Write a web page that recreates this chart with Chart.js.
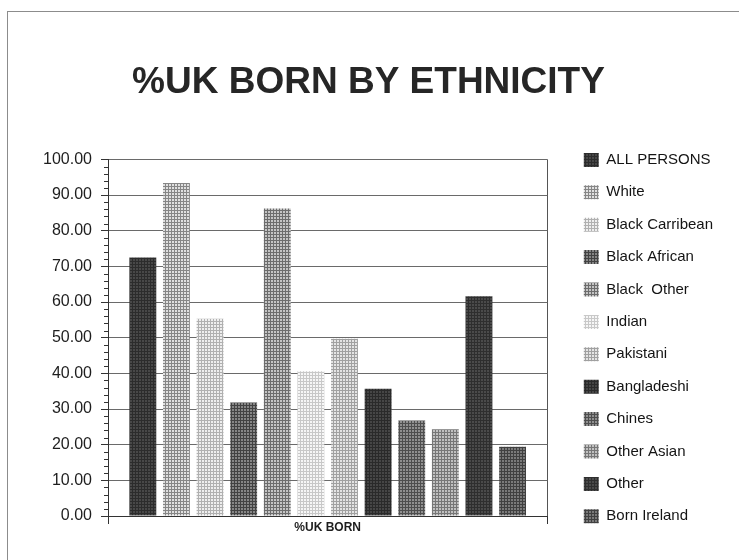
<!DOCTYPE html>
<html>
<head>
<meta charset="utf-8">
<script src="https://cdn.jsdelivr.net/npm/chart.js@4/dist/chart.umd.min.js"></script>
<style>
    body { margin: 0; background: #ffffff; }
    #quadro { position: relative; width: 739px; height: 560px; overflow: hidden; }
    #moldura {
        position: absolute; left: 7px; top: 11px; right: -2px; bottom: -2px;
        border-left: 1px solid #8c8c8c; border-top: 1px solid #8c8c8c;
        pointer-events: none;
    }
</style>
</head>
<body>
<div id="quadro">
    <canvas id="chart_uk_born" width="739" height="560"></canvas>
    <div id="moldura"></div>
</div>
<script>
// dados
const categorias = ['%UK BORN'];
const grupos = ['ALL PERSONS', 'White', 'Black Carribean', 'Black African', 'Black  Other', 'Indian',
    'Pakistani', 'Bangladeshi', 'Chines', 'Other Asian', 'Other', 'Born Ireland'];
const pct_uk_born = [72.5, 93.4, 55.3, 31.8, 86.2, 40.6, 49.7, 35.7, 26.8, 24.3, 61.6, 19.4];
const eixo_y = { min: 0, max: 100, passo: 10, menor: 2 };

// tons de cinza de cada barra: [fundo, trama]
const tons = [
    ['#484848', '#2c2c2c'],
    ['#e0e0e0', '#868686'],
    ['#eeeeee', '#b0b0b0'],
    ['#868686', '#424242'],
    ['#c4c4c4', '#6c6c6c'],
    ['#f6f6f6', '#c8c8c8'],
    ['#e4e4e4', '#a0a0a0'],
    ['#464646', '#2a2a2a'],
    ['#909090', '#4e4e4e'],
    ['#c0c0c0', '#767676'],
    ['#4a4a4a', '#2e2e2e'],
    ['#7a7a7a', '#404040']
];

const fonte = 'Liberation Sans, Arial, Helvetica, sans-serif';

// trama de pontos, parecida com a retícula impressa
function criarTrama(fundo, trama) {
    var c = document.createElement('canvas');
    c.width = 3;
    c.height = 3;
    var g = c.getContext('2d');
    g.fillStyle = fundo;
    g.fillRect(0, 0, 3, 3);
    g.fillStyle = trama;
    g.fillRect(0, 0, 3, 1);
    g.fillRect(0, 0, 1, 3);
    return g.createPattern(c, 'repeat');
}

var datasets = [];
for (var i = 0; i < grupos.length; i++) {
    datasets.push({
        label: grupos[i],
        data: [pct_uk_born[i]],
        backgroundColor: criarTrama(tons[i][0], tons[i][1]),
        borderWidth: 0,
        categoryPercentage: 0.918,
        barPercentage: 0.8
    });
}

// tracinhos menores no eixo y, entre as marcas principais
const marcasMenores = {
    id: 'marcasMenores',
    afterDraw(chart) {
        var escala = chart.scales.y;
        var ctx = chart.ctx;
        var x = chart.chartArea.left;
        ctx.save();
        ctx.strokeStyle = '#333333';
        ctx.lineWidth = 1;
        for (var v = eixo_y.min; v <= eixo_y.max; v += eixo_y.menor) {
            if (v % eixo_y.passo == 0) continue;
            var y = Math.round(escala.getPixelForValue(v)) + 0.5;
            ctx.beginPath();
            ctx.moveTo(x - 4, y);
            ctx.lineTo(x, y);
            ctx.stroke();
        }
        ctx.restore();
    }
};

// empurra a legenda um pouco para a direita, deixando um vão depois do gráfico
const afastarLegenda = {
    id: 'afastarLegenda',
    afterLayout(chart) {
        chart.legend.left += 19;
        chart.legend.right += 19;
    }
};

new Chart(document.getElementById('chart_uk_born'), {
    type: 'bar',
    data: {
        labels: categorias,
        datasets: datasets
    },
    plugins: [marcasMenores, afastarLegenda],
    options: {
        responsive: false,
        animation: false,
        layout: {
            padding: { left: 33, right: 35, top: 0, bottom: 10 }
        },
        scales: {
            x: {
                grid: {
                    offset: true,
                    color: '#555555',
                    tickLength: 8,
                    tickColor: '#333333'
                },
                border: { display: true, color: '#333333' },
                ticks: {
                    color: '#1e1e1e',
                    padding: -4,
                    font: { family: fonte, size: 12, weight: 'bold' }
                },
                afterFit: function (escala) { escala.height = 34; }
            },
            y: {
                min: eixo_y.min,
                max: eixo_y.max,
                ticks: {
                    stepSize: eixo_y.passo,
                    color: '#1e1e1e',
                    padding: 9,
                    font: { family: fonte, size: 16 },
                    callback: function (valor) { return valor.toFixed(2); }
                },
                grid: {
                    color: '#6a6a6a',
                    tickLength: 7,
                    tickColor: '#333333'
                },
                border: { display: true, color: '#333333' },
                afterFit: function (escala) { escala.width = 75; }
            }
        },
        plugins: {
            title: {
                display: true,
                text: '%UK BORN BY ETHNICITY',
                color: '#262626',
                font: { family: fonte, size: 37, weight: 'bold' },
                padding: { top: 61, bottom: 54 }
            },
            legend: {
                position: 'right',
                align: 'start',
                title: {
                    display: true,
                    text: '',
                    font: { size: 10 },
                    padding: { top: 123, bottom: 0 }
                },
                labels: {
                    boxWidth: 15,
                    boxHeight: 14,
                    padding: 17.4,
                    color: '#141414',
                    font: { family: fonte, size: 15 }
                }
            },
            tooltip: { enabled: false }
        }
    }
});
</script>
</body>
</html>
